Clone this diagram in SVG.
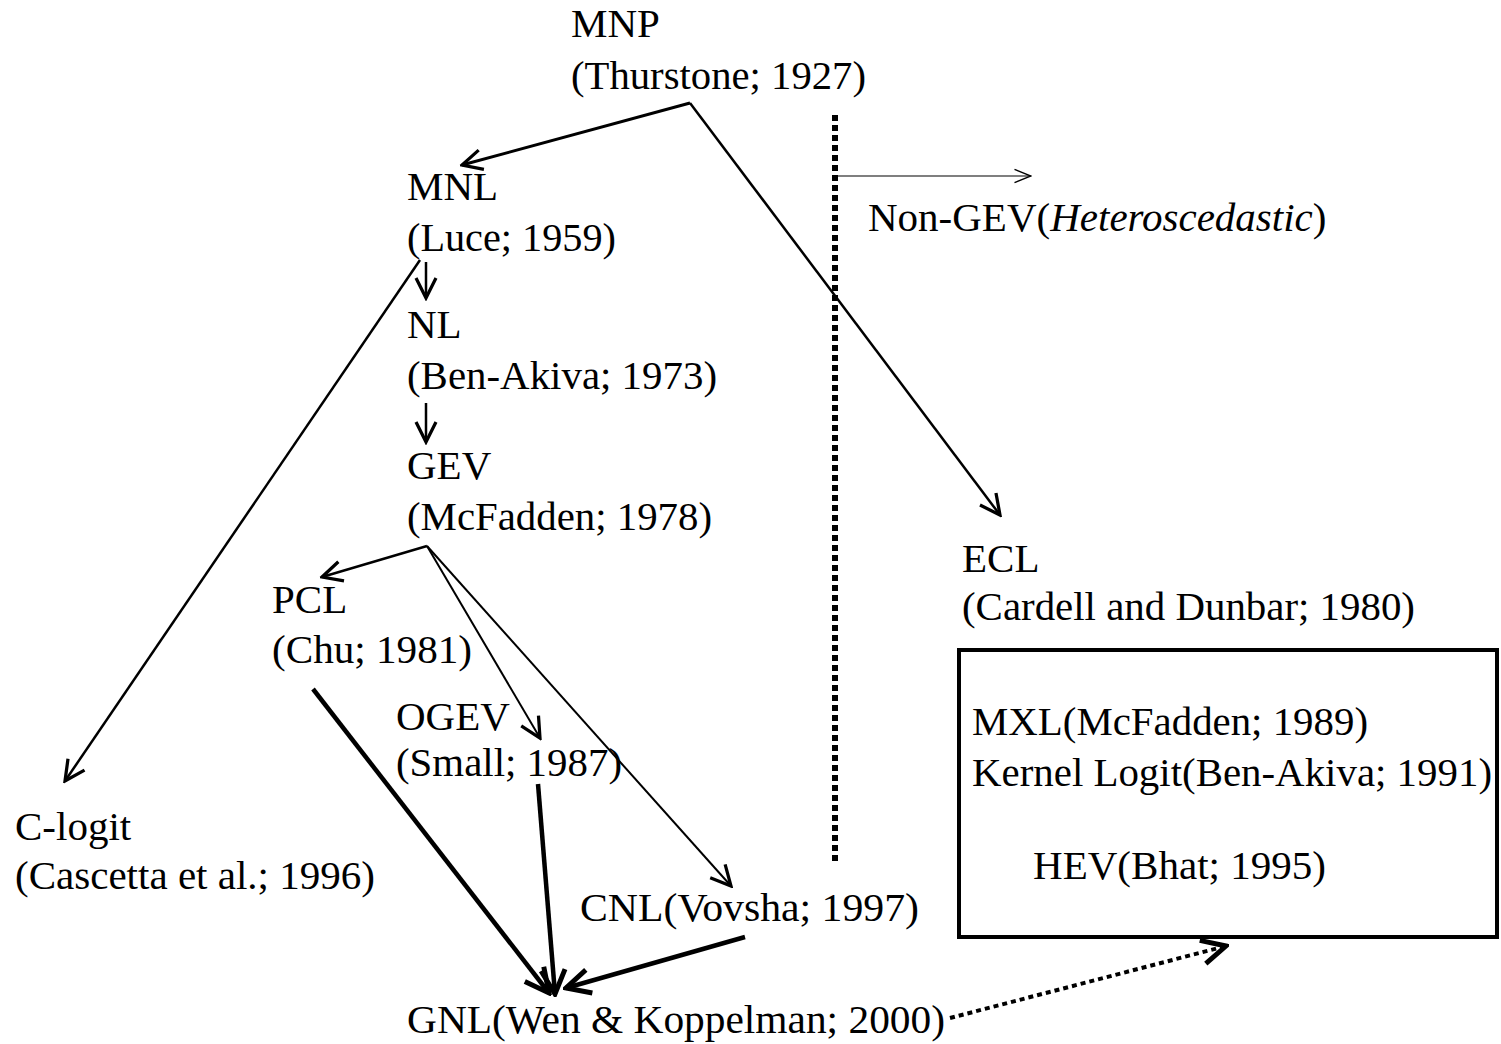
<svg xmlns="http://www.w3.org/2000/svg" width="1501" height="1044" viewBox="0 0 1501 1044" font-family="'Liberation Serif', 'DejaVu Serif', serif">
<style>
text{font-family:'Liberation Serif','DejaVu Serif',serif;font-size:41px;fill:#000}
.c{fill:none;stroke:#000}
</style>
<defs>
<marker id="ah" viewBox="0 0 20 20" refX="18" refY="10" markerWidth="25" markerHeight="25" markerUnits="userSpaceOnUse" orient="auto">
<path d="M2,2 L18,10 L2,18" fill="none" stroke="#000" stroke-width="2.6" stroke-linejoin="miter"/>
</marker>
<marker id="ahb" viewBox="0 0 20 20" refX="18" refY="10" markerWidth="30" markerHeight="30" markerUnits="userSpaceOnUse" orient="auto">
<path d="M2,2 L18,10 L2,18" fill="none" stroke="#000" stroke-width="3.3" stroke-linejoin="miter"/>
</marker>
<marker id="aht" viewBox="0 0 20 20" refX="19" refY="10" markerWidth="22" markerHeight="22" markerUnits="userSpaceOnUse" orient="auto">
<path d="M4,4 L19,10 L4,16" fill="none" stroke="#000" stroke-width="1.3"/>
</marker>
</defs>
<rect width="1501" height="1044" fill="#fff"/>
<g id="connectors">
<line class="c" x1="690" y1="103" x2="462" y2="165" stroke-width="3" marker-end="url(#ah)"/>
<line class="c" x1="690" y1="103" x2="1000" y2="515" stroke-width="2.5" marker-end="url(#ah)"/>
<line class="c" x1="426" y1="262" x2="426" y2="298" stroke-width="2.5" marker-end="url(#ah)"/>
<line class="c" x1="420" y1="260" x2="65" y2="781" stroke-width="2.5" marker-end="url(#ah)"/>
<line class="c" x1="426" y1="403" x2="426" y2="442" stroke-width="2.5" marker-end="url(#ah)"/>
<line class="c" x1="427" y1="546" x2="322" y2="577" stroke-width="2.5" marker-end="url(#ah)"/>
<line class="c" x1="427" y1="546" x2="540" y2="738" stroke-width="2" marker-end="url(#ah)"/>
<line class="c" x1="427" y1="546" x2="731" y2="886" stroke-width="2" marker-end="url(#ah)"/>
<line class="c" x1="313" y1="689" x2="549" y2="993" stroke-width="4.5" marker-end="url(#ahb)"/>
<line class="c" x1="538" y1="784" x2="555" y2="994" stroke-width="4.5" marker-end="url(#ahb)"/>
<line class="c" x1="745" y1="937" x2="566" y2="988" stroke-width="4.5" marker-end="url(#ahb)"/>
<line class="c" x1="950" y1="1018" x2="1226" y2="946" stroke-width="4" stroke-dasharray="5 4" marker-end="url(#ahb)"/>
<line class="c" x1="835" y1="115" x2="835" y2="862" stroke-width="6" stroke-dasharray="6 4"/>
<line class="c" x1="835" y1="176" x2="1031" y2="176" stroke-width="1.2" marker-end="url(#aht)"/>
</g>
<g id="MNP"><text x="571" y="37">MNP</text><text x="571" y="89" textLength="295" lengthAdjust="spacingAndGlyphs">(Thurstone; 1927)</text></g>
<g id="MNL"><text x="407" y="200">MNL</text><text x="407" y="251" textLength="209" lengthAdjust="spacingAndGlyphs">(Luce; 1959)</text></g>
<g id="NL"><text x="407" y="338">NL</text><text x="407" y="389" textLength="310" lengthAdjust="spacingAndGlyphs">(Ben-Akiva; 1973)</text></g>
<g id="GEV"><text x="407" y="479">GEV</text><text x="407" y="530" textLength="305" lengthAdjust="spacingAndGlyphs">(McFadden; 1978)</text></g>
<g id="PCL"><text x="272" y="613">PCL</text><text x="272" y="663" textLength="200" lengthAdjust="spacingAndGlyphs">(Chu; 1981)</text></g>
<g id="OGEV"><text x="396" y="730">OGEV</text><text x="396" y="776" textLength="226" lengthAdjust="spacingAndGlyphs">(Small; 1987)</text></g>
<g id="Clogit"><text x="15" y="840">C-logit</text><text x="15" y="889" textLength="360" lengthAdjust="spacingAndGlyphs">(Cascetta et al.; 1996)</text></g>
<g id="CNL"><text x="580" y="921" textLength="339" lengthAdjust="spacingAndGlyphs">CNL(Vovsha; 1997)</text></g>
<g id="GNL"><text x="407" y="1033" textLength="538" lengthAdjust="spacingAndGlyphs">GNL(Wen &amp; Koppelman; 2000)</text></g>
<g id="NonGEV"><text x="868" y="231">Non-GEV(<tspan font-style="italic">Heteroscedastic</tspan>)</text></g>
<g id="ECL"><text x="962" y="572">ECL</text><text x="962" y="620" textLength="453" lengthAdjust="spacingAndGlyphs">(Cardell and Dunbar; 1980)</text></g>
<g id="Box">
<rect x="959" y="650" width="538" height="287" fill="none" stroke="#000" stroke-width="4"/>
<text x="972" y="735" textLength="396" lengthAdjust="spacingAndGlyphs">MXL(McFadden; 1989)</text>
<text x="972" y="786" textLength="520" lengthAdjust="spacingAndGlyphs">Kernel Logit(Ben-Akiva; 1991)</text>
<text x="1033" y="879" textLength="293" lengthAdjust="spacingAndGlyphs">HEV(Bhat; 1995)</text>
</g>
</svg>
